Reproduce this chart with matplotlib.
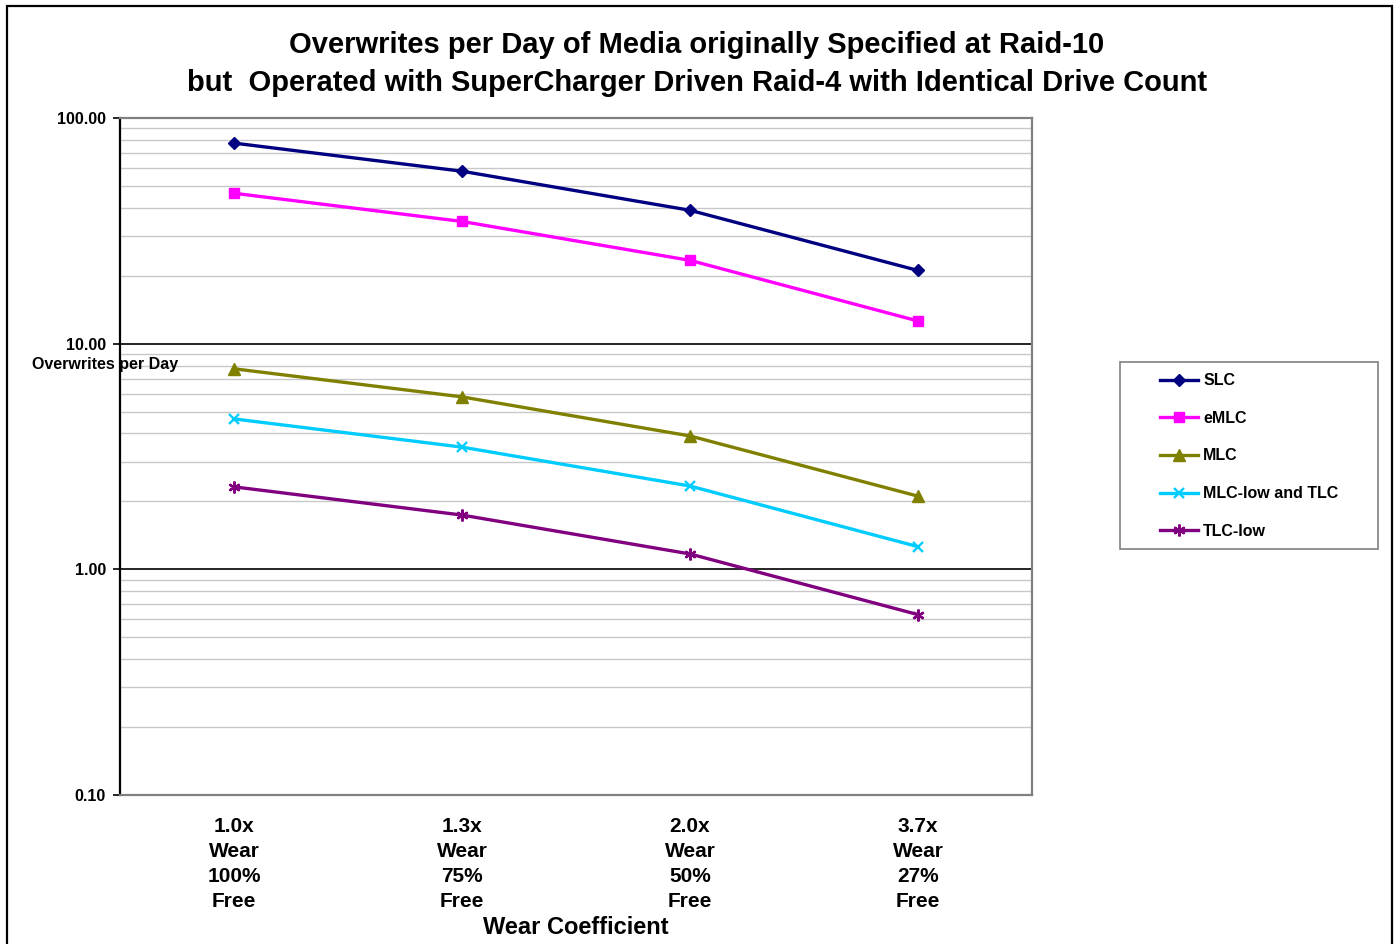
import matplotlib
matplotlib.use("Agg")
import matplotlib.pyplot as plt
from matplotlib.patches import Rectangle
from matplotlib.ticker import FixedLocator, NullFormatter

plt.rcParams['font.family'] = ['Liberation Sans', 'DejaVu Sans']
plt.rcParams['font.weight'] = 'bold'

# data
categories = ["1.0x\nWear\n100%\nFree", "1.3x\nWear\n75%\nFree",
              "2.0x\nWear\n50%\nFree", "3.7x\nWear\n27%\nFree"]
slc = [77.4, 58.1, 39.0, 21.1]
emlc = [46.4, 34.8, 23.4, 12.6]
mlc = [7.74, 5.81, 3.90, 2.11]
mlc_low_tlc = [4.64, 3.48, 2.34, 1.26]
tlc_low = [2.32, 1.74, 1.17, 0.63]

y_ticks = [0.1, 1, 10, 100]
y_ticklabels = ["0.10", "1.00", "10.00", "100.00"]

W, H = 1394, 944
fig = plt.figure(figsize=(W / 100, H / 100), dpi=100)
ax = fig.add_axes([120 / W, 1 - 795 / H, (1032 - 120) / W, (795 - 118) / H])

x = list(range(len(categories)))
lw = 2.4
ax.plot(x, slc, color='#000080', lw=lw, marker='D', ms=6.5, label='SLC', zorder=5)
ax.plot(x, emlc, color='#FF00FF', lw=lw, marker='s', ms=7.5, label='eMLC', zorder=5)
ax.plot(x, mlc, color='#808000', lw=lw, marker='^', ms=8.5, label='MLC', zorder=5)
ax.plot(x, mlc_low_tlc, color='#00CCFF', lw=lw, marker='x', ms=7.5, mew=1.7,
        label='MLC-low and TLC', zorder=5)
ax.plot(x, tlc_low, color='#800080', lw=lw, marker=(6, 2, 0), ms=8.5, mew=1.7,
        label='TLC-low', zorder=5)

ax.set_yscale('log')
ax.set_ylim(0.1, 100)
ax.set_xlim(-0.5, len(categories) - 0.5)

ax.yaxis.set_major_locator(FixedLocator(y_ticks))
ax.set_yticklabels(y_ticklabels, fontsize=11.5, fontweight='bold')
ax.yaxis.set_minor_formatter(NullFormatter())
ax.tick_params(axis='y', which='major', length=5, width=1.2, direction='out', pad=5)
ax.tick_params(axis='y', which='minor', length=0)

ax.set_xticks(x)
ax.set_xticklabels(categories, fontsize=15, fontweight='bold', linespacing=1.4)
ax.tick_params(axis='x', length=0, pad=16)

ax.grid(True, which='major', axis='y', color='black', lw=1.2)
ax.grid(True, which='minor', axis='y', color='#c8c8c8', lw=1.0)

ax.spines['left'].set_color('black')
ax.spines['left'].set_linewidth(1.6)
for s in ['top', 'right', 'bottom']:
    ax.spines[s].set_color('#808080')
    ax.spines[s].set_linewidth(1.6)

ax.set_xlabel('Wear Coefficient', fontsize=17, fontweight='bold', labelpad=3.5)

fig.text(32 / W, 1 - 365 / H, 'Overwrites per Day', fontsize=11.5, fontweight='bold',
         ha='left', va='center')

fig.text(0.5, 1 - 64 / H,
         'Overwrites per Day of Media originally Specified at Raid-10\n'
         'but  Operated with SuperCharger Driven Raid-4 with Identical Drive Count',
         fontsize=21, fontweight='bold', ha='center', va='center', linespacing=1.45)

# legend
fig.legend(loc='center left', bbox_to_anchor=(1160 / W, 1 - 456 / H), frameon=False,
           fontsize=11.5, borderpad=0, borderaxespad=0, handlelength=2.35,
           handletextpad=0.35, labelspacing=1.42)
fig.patches.append(Rectangle((1120 / W, 1 - 549 / H), (1378 - 1120) / W, (549 - 362) / H,
                             transform=fig.transFigure, fill=False, edgecolor='#808080',
                             lw=1.2))

# outer border
fig.patches.append(Rectangle((7 / W, -0.05), (1392 - 7) / W, 1.05 - 6 / H,
                             transform=fig.transFigure, fill=False, edgecolor='black',
                             lw=1.6, clip_on=False))

fig.savefig('out.png', dpi=100)
